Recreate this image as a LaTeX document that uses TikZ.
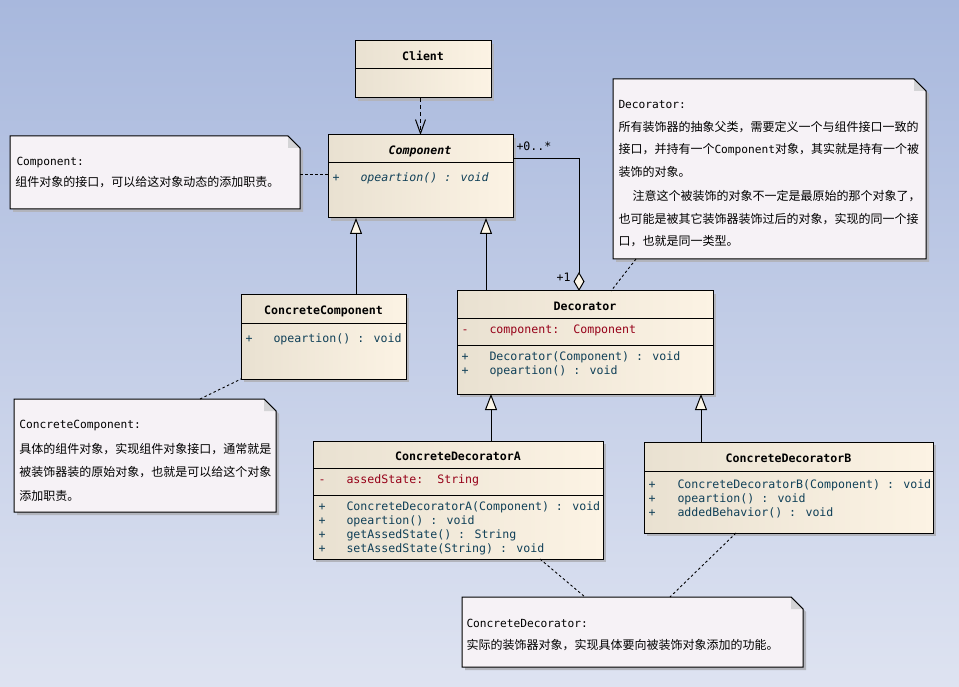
\documentclass[tikz,border=0pt]{standalone}
\usepackage{fontspec}
\newfontfamily\umlmono{DejaVu Sans Mono}[
  BoldFont={DejaVu Sans Mono Bold},
  ItalicFont={DejaVu Sans Mono Oblique},
  BoldItalicFont={DejaVu Sans Mono Bold Oblique}]
\newfontfamily\cjk{Noto Sans CJK SC}
\usetikzlibrary{arrows.meta,calc,shadows}

\definecolor{bgtop}{RGB}{168,184,221}
\definecolor{bgbot}{RGB}{222,227,241}
\definecolor{clsL}{RGB}{233,225,209}
\definecolor{clsR}{RGB}{252,243,228}
\definecolor{notefill}{RGB}{246,242,246}
\definecolor{foldc}{RGB}{212,212,214}
\definecolor{shadowc}{RGB}{178,180,188}
\definecolor{tipfill}{RGB}{252,246,232}
\definecolor{attrc}{RGB}{150,0,24}
\definecolor{methc}{RGB}{16,64,88}

\newcommand{\zhtext}[1]{{\cjk\fontsize{12}{14}\selectfont #1}}

% folded-corner note drawn around an (invisible) rectangular node
\newcommand{\foldnote}[1]{%
  \fill[shadowc] ($(#1.north west)+(3,3)$) -- ($(#1.north east)+(-9,3)$)
     -- ($(#1.north east)+(3,15)$) -- ($(#1.south east)+(3,3)$)
     -- ($(#1.south west)+(3,3)$) -- cycle;
  \draw[fill=notefill] (#1.north west) -- ($(#1.north east)+(-12,0)$)
     -- ($(#1.north east)+(0,12)$) -- (#1.south east) -- (#1.south west) -- cycle;
  \fill[foldc] ($(#1.north east)+(-12,0)$) -- ($(#1.north east)+(0,12)$)
     -- ($(#1.north east)+(-12,12)$) -- cycle;
  \draw ($(#1.north east)+(-12,0)$) -- ($(#1.north east)+(0,12)$);
}

\begin{document}
\begin{tikzpicture}[x=1pt, y=-1pt, line width=1pt,
  classbox/.style={draw=black, left color=clsL, right color=clsR,
    anchor=north west, inner sep=0pt, outer sep=0pt,
    drop shadow={shadow xshift=3pt, shadow yshift=-3pt, fill=shadowc, opacity=1}},
  notearea/.style={anchor=north west, inner sep=0pt, outer sep=0pt},
  divider/.style={draw=black, line width=1pt},
  txt/.style={inner sep=0pt, text height=9pt, text depth=1pt, anchor=west},
  clsfont/.style={font=\umlmono\fontsize{11.6}{14}\selectfont},
  clsname/.style={txt, clsfont, anchor=center, font=\umlmono\fontsize{11.6}{14}\selectfont\bfseries},
  member/.style={txt, clsfont, text=methc},
  attr/.style={txt, clsfont, text=attrc},
  notetxt/.style={txt, font=\umlmono\fontsize{11.2}{14}\selectfont},
  notezh/.style={txt, font=\cjk\fontsize{12}{14}\selectfont},
  link/.style={draw=black, line width=0.9pt, dash pattern=on 2.5pt off 2.5pt},
  dep/.style={draw=black, line width=1pt, dash pattern=on 4pt off 3pt,
    -{Straight Barb[length=14pt, width=10pt]}},
  gen/.style={draw=black, line width=1pt,
    -{Triangle[length=16pt, width=12pt, fill=tipfill]}},
  agg/.style={draw=black, line width=1pt,
    -{Diamond[length=19pt, width=11pt, fill=tipfill]}},
  mult/.style={txt, clsfont}
]
\useasboundingbox (0,0) rectangle (959,687);
\fill[top color=bgtop, bottom color=bgbot] (0,0) rectangle (959,687);

% ---------------- classes ----------------
\node[classbox, minimum width=136pt, minimum height=57pt] (client) at (355,41) {};
\draw[divider] ($(client.north west)+(0,28)$) -- ($(client.north east)+(0,28)$);
\node[clsname] (client-t) at (423,57) {Client};

\node[classbox, minimum width=185pt, minimum height=83pt] (component) at (328,135) {};
\draw[divider] ($(component.north west)+(0,28)$) -- ($(component.north east)+(0,28)$);
\node[clsname, font=\umlmono\fontsize{11.6}{14}\selectfont\bfseries\itshape] (component-t) at (420,151) {Component};
\node[member] (component-v1) at (332,178) {+};
\node[member, font=\umlmono\fontsize{11.6}{14}\selectfont\itshape] (component-m1) at (360,178) {opeartion() : void};

\node[classbox, minimum width=165pt, minimum height=84pt] (ccomp) at (241,295) {};
\draw[divider] ($(ccomp.north west)+(0,28)$) -- ($(ccomp.north east)+(0,28)$);
\node[clsname] (ccomp-t) at (323.5,311) {ConcreteComponent};
\node[member] (ccomp-v1) at (245,338) {+};
\node[member] (ccomp-m1) at (273,338) {opeartion() : void};

\node[classbox, minimum width=256pt, minimum height=103pt] (deco) at (457,291) {};
\draw[divider] ($(deco.north west)+(0,27)$) -- ($(deco.north east)+(0,27)$);
\draw[divider] ($(deco.north west)+(0,54)$) -- ($(deco.north east)+(0,54)$);
\node[clsname] (deco-t) at (585,306) {Decorator};
\node[attr] (deco-v0) at (461,329) {-};
\node[attr] (deco-a1) at (489,329) {component:~~Component};
\node[member] (deco-v1) at (461,356) {+};
\node[member] (deco-m1) at (489,356) {Decorator(Component) : void};
\node[member] (deco-v2) at (461,370) {+};
\node[member] (deco-m2) at (489,370) {opeartion() : void};

\node[classbox, minimum width=290pt, minimum height=118pt] (cda) at (313,441) {};
\draw[divider] ($(cda.north west)+(0,27)$) -- ($(cda.north east)+(0,27)$);
\draw[divider] ($(cda.north west)+(0,54)$) -- ($(cda.north east)+(1,54)$);
\node[clsname] (cda-t) at (458,456) {ConcreteDecoratorA};
\node[attr] (cda-v0) at (318,479) {-};
\node[attr] (cda-a1) at (346,479) {assedState:~~String};
\node[member] (cda-v1) at (318,506) {+};
\node[member] (cda-m1) at (346,506) {ConcreteDecoratorA(Component) : void};
\node[member] (cda-v2) at (318,520) {+};
\node[member] (cda-m2) at (346,520) {opeartion() : void};
\node[member] (cda-v3) at (318,534) {+};
\node[member] (cda-m3) at (346,534) {getAssedState() : String};
\node[member] (cda-v4) at (318,548) {+};
\node[member] (cda-m4) at (346,548) {setAssedState(String) : void};

\node[classbox, minimum width=289pt, minimum height=91pt] (cdb) at (644,442) {};
\draw[divider] ($(cdb.north west)+(0,29)$) -- ($(cdb.north east)+(0,29)$);
\node[clsname] (cdb-t) at (788.5,458) {ConcreteDecoratorB};
\node[member] (cdb-v1) at (648,484) {+};
\node[member] (cdb-m1) at (677,484) {ConcreteDecoratorB(Component) : void};
\node[member] (cdb-v2) at (648,498) {+};
\node[member] (cdb-m2) at (677,498) {opeartion() : void};
\node[member] (cdb-v3) at (648,512) {+};
\node[member] (cdb-m3) at (677,512) {addedBehavior() : void};

% ---------------- notes ----------------
\node[notearea, minimum width=290pt, minimum height=73pt] (cnote) at (10,136) {};
\foldnote{cnote}
\node[notetxt] (cnote-1) at (16,162) {Component:};
\node[notezh] (cnote-2) at (15,183) {组件对象的接口，可以给这对象动态的添加职责。};

\node[notearea, minimum width=313pt, minimum height=180pt] (dnote) at (613,79) {};
\foldnote{dnote}
\node[notetxt] (dnote-1) at (618,105) {Decorator:};
\node[notezh] (dnote-2) at (618,128) {所有装饰器的抽象父类，需要定义一个与组件接口一致的};
\node[notetxt] (dnote-3) at (618,150) {\zhtext{接口，并持有一个}Component\zhtext{对象，其实就是持有一个被}};
\node[notezh] (dnote-4) at (618,173) {装饰的对象。};
\node[notezh] (dnote-5) at (632,197) {注意这个被装饰的对象不一定是最原始的那个对象了，};
\node[notezh] (dnote-6) at (618,220) {也可能是被其它装饰器装饰过后的对象，实现的同一个接};
\node[notezh] (dnote-7) at (618,242) {口，也就是同一类型。};

\node[notearea, minimum width=262pt, minimum height=113pt] (ccnote) at (14,399) {};
\foldnote{ccnote}
\node[notetxt] (ccnote-1) at (19,424) {ConcreteComponent:};
\node[notezh] (ccnote-2) at (19,449) {具体的组件对象，实现组件对象接口，通常就是};
\node[notezh] (ccnote-3) at (19,472) {被装饰器装的原始对象，也就是可以给这个对象};
\node[notezh] (ccnote-4) at (19,496) {添加职责。};

\node[notearea, minimum width=341pt, minimum height=70pt] (cdnote) at (462,597) {};
\foldnote{cdnote}
\node[notetxt] (cdnote-1) at (466,623) {ConcreteDecorator:};
\node[notezh] (cdnote-2) at (466,645) {实际的装饰器对象，实现具体要向被装饰对象添加的功能。};

% ---------------- connectors ----------------
% dependency Client -> Component
\draw[dep] (component.north |- client.south) -- (component.north);

% generalizations
\coordinate (component-g1) at ($(component.south west)+(28,0)$);
\coordinate (component-g2) at ($(component.south west)+(158,0)$);
\coordinate (deco-g1) at ($(deco.south west)+(34,0)$);
\coordinate (deco-g2) at ($(deco.south west)+(244,0)$);
\draw[gen] (ccomp.north -| component-g1) -- (component-g1);
\draw[gen] (deco.north -| component-g2) -- (component-g2);
\draw[gen] (cda.north -| deco-g1) -- (deco-g1);
\draw[gen] (cdb.north -| deco-g2) -- (deco-g2);

% aggregation Decorator <>-- Component
\coordinate (agg-start) at ($(component.north east)+(0,24)$);
\coordinate (agg-end) at ($(deco.north)+(-6,0)$);
\draw[agg] (agg-start) -| (agg-end);
\node[mult] (mult-many) at ($(agg-start)+(3,-12)$) {+0..*};
\node[mult, anchor=east] (mult-one) at ($(agg-end)+(-8,-13)$) {+1};

% note links
\draw[link] (cnote.east |- 0,174) -- (component.west |- 0,174);
\draw[link] ($(dnote.south west)+(23,0)$) -- ($(deco.north west)+(154,0)$);
\draw[link] ($(ccnote.north west)+(186,0)$) -- (ccomp.south west);
\draw[link] ($(cda.south west)+(227,0)$) -- ($(cdnote.north west)+(123,0)$);
\draw[link] ($(cdb.south west)+(92,0)$) -- ($(cdnote.north west)+(208,0)$);
\end{tikzpicture}
\end{document}
